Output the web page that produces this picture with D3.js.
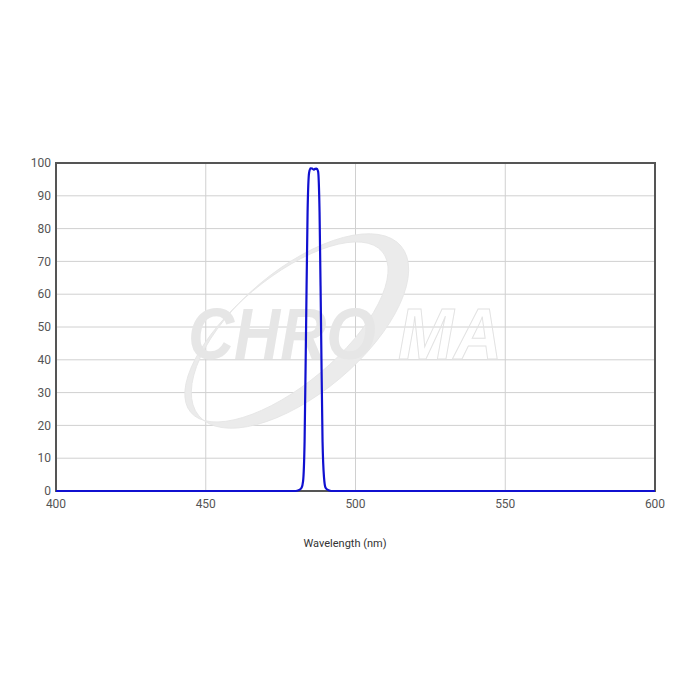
<!DOCTYPE html>
<html><head><meta charset="utf-8">
<script src="https://cdn.jsdelivr.net/npm/d3@7"></script>
<style>body{margin:0;background:#fff;} svg{display:block;font-family:Roboto,sans-serif;}</style>
</head><body>
<svg id="c" width="700" height="700"></svg>
<script>
const wavelength = [400,470,480,481,482,482.5,483,483.5,484,484.5,485,485.5,486,486.5,487,487.5,488,488.5,489,489.5,490,491,492,600];
const transmission = [0,0,0,0.2,1,3,15,50,85,97,98.4,98.3,98,98.2,98.3,97.5,85,50,15,4,1,0.2,0,0];
const xTicks = [400,450,500,550,600];
const yTicks = [0,10,20,30,40,50,60,70,80,90,100];
const xTitle = "Wavelength (nm)";

const svg = d3.select("#c");
const L=56,R=655,T=163,B=491;
const x = d3.scaleLinear().domain([400,600]).range([L,R]);
const y = d3.scaleLinear().domain([0,100]).range([B,T]);

// grid
svg.append("g").selectAll("line").data(xTicks).join("line")
  .attr("x1",d=>x(d)).attr("x2",d=>x(d)).attr("y1",T).attr("y2",B)
  .attr("stroke","#d0d0d0").attr("stroke-width",1);
svg.append("g").selectAll("line").data(yTicks).join("line")
  .attr("x1",L).attr("x2",R).attr("y1",d=>y(d)).attr("y2",d=>y(d))
  .attr("stroke","#d0d0d0").attr("stroke-width",1);

// watermark
const wm = svg.append("g");
const ring = wm.append("g").attr("transform","translate(300,331) rotate(-40)");
ring.append("path")
  .attr("fill","#ebebeb").attr("fill-rule","evenodd")
  .attr("stroke","#e4e4e4").attr("stroke-width",0.8)
  .attr("d","M-132,0 A132,62 0 1,1 132,0 A132,62 0 1,1 -132,0 Z M-136,-8 A125,53 0 1,0 114,-8 A125,53 0 1,0 -136,-8 Z");
wm.append("text").attr("x",188).attr("y",359)
  .attr("font-size",72).attr("font-weight",700).attr("font-style","italic")
  .attr("font-family","'Liberation Sans',Arial,sans-serif").attr("textLength",188)
  .attr("lengthAdjust","spacingAndGlyphs")
  .attr("fill","#e6e6e6").text("CHRO");
wm.append("text").attr("x",398).attr("y",359)
  .attr("font-size",72).attr("font-weight",700).attr("font-style","italic")
  .attr("font-family","'Liberation Sans',Arial,sans-serif").attr("textLength",104)
  .attr("lengthAdjust","spacingAndGlyphs")
  .attr("fill","none").attr("stroke","#e2e2e2").attr("stroke-width",1).text("MA");

// frame
svg.append("rect").attr("x",L).attr("y",T).attr("width",R-L).attr("height",B-T)
  .attr("fill","none").attr("stroke","#555").attr("stroke-width",2);

// line
svg.append("path").datum(wavelength.map((w,i)=>[w,transmission[i]]))
  .attr("fill","none").attr("stroke","#1010d0").attr("stroke-width",2.2)
  .attr("stroke-linejoin","round")
  .attr("d", d3.line().x(d=>x(d[0])).y(d=>y(d[1])).curve(d3.curveMonotoneX));

// tick labels
svg.append("g").selectAll("text").data(yTicks).join("text")
  .attr("x",L-5).attr("y",d=>y(d)).attr("dy","0.35em").attr("text-anchor","end")
  .attr("font-size",12).attr("fill","#555").text(d=>d);
svg.append("g").selectAll("text").data(xTicks).join("text")
  .attr("x",d=>x(d)).attr("y",B+17).attr("text-anchor","middle")
  .attr("font-size",12).attr("fill","#555").text(d=>d);
svg.append("text").attr("x",345).attr("y",547).attr("text-anchor","middle")
  .attr("font-size",11).attr("fill","#333").text(xTitle);
</script>
</body></html>
